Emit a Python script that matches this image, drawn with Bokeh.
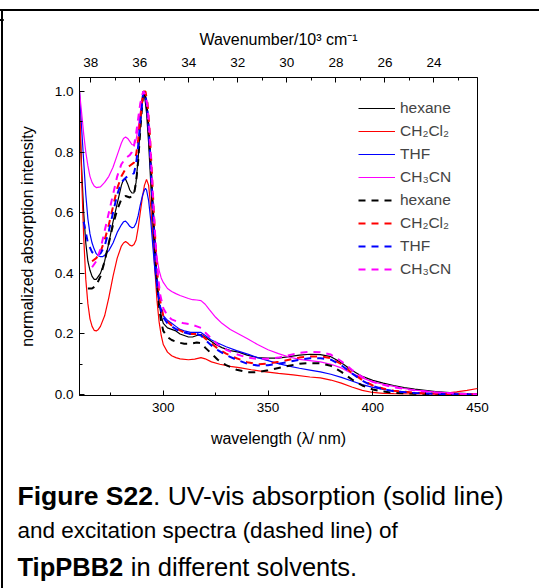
from bokeh.plotting import figure
from bokeh.models import Range1d, LinearAxis, FixedTicker, Legend, LegendItem, NumeralTickFormatter, Div, Spacer
from bokeh.layouts import column, row
from bokeh.embed import file_html
from bokeh.resources import INLINE
from bokeh.core.properties import value

FONT = "Liberation Sans"

# ---------------- data ----------------
wl_range = (260, 450)
y_ticks = [0.0, 0.2, 0.4, 0.6, 0.8, 1.0]
y_minor = [0.1, 0.3, 0.5, 0.7, 0.9]
x_ticks = [300, 350, 400, 450]
x_minor = [275, 325, 375, 425]
wn_ticks = [38, 36, 34, 32, 30, 28, 26, 24]
wn_minor = [37, 35, 33, 31, 29, 27, 25, 23]

solvents = ["hexane", "CH\u2082Cl\u2082", "THF", "CH\u2083CN"]
colors = ["#000000", "#ff0000", "#0000ff", "#ff00ff"]

# absorption (solid)
abs_hexane_wl = [260, 261, 262, 263, 264, 265, 266, 267, 268, 270, 272, 274, 276, 278, 280, 281, 282, 283, 284, 285, 286, 287, 288, 289, 290, 290.5, 291, 292, 293, 294, 295, 296, 297, 298, 299, 300, 302, 304, 306, 308, 310, 312, 314, 316, 318, 320, 322, 325, 328, 332, 336, 340, 345, 350, 355, 360, 365, 370, 375, 380, 383, 386, 390, 395, 400, 405, 410, 415, 420, 430, 440, 450]
abs_hexane = [0.92, 0.75, 0.6, 0.5, 0.44, 0.41, 0.39, 0.38, 0.38, 0.40, 0.44, 0.5, 0.57, 0.63, 0.69, 0.71, 0.71, 0.695, 0.675, 0.665, 0.665, 0.70, 0.78, 0.88, 0.97, 1.0, 0.99, 0.93, 0.83, 0.7, 0.57, 0.45, 0.36, 0.3, 0.26, 0.235, 0.22, 0.215, 0.21, 0.2, 0.195, 0.19, 0.19, 0.195, 0.198, 0.19, 0.18, 0.165, 0.155, 0.145, 0.14, 0.13, 0.122, 0.12, 0.12, 0.125, 0.13, 0.133, 0.132, 0.125, 0.113, 0.1, 0.08, 0.06, 0.047, 0.038, 0.03, 0.023, 0.018, 0.01, 0.005, 0.002]

abs_dcm_wl = [260, 261, 262, 263, 264, 265, 266, 267, 268, 269, 270, 272, 274, 276, 278, 280, 281, 282, 283, 284, 285, 286, 287, 288, 289, 290, 291, 292, 293, 294, 295, 296, 297, 298, 299, 300, 302, 304, 306, 308, 312, 315, 318, 320, 323, 327, 332, 337, 342, 348, 355, 362, 370, 375, 380, 385, 390, 395, 400, 405, 410, 420, 430, 435, 440, 445, 450]
abs_dcm = [1.0, 0.72, 0.52, 0.38, 0.3, 0.25, 0.225, 0.212, 0.21, 0.215, 0.225, 0.26, 0.32, 0.39, 0.45, 0.49, 0.5, 0.505, 0.5, 0.493, 0.49, 0.495, 0.51, 0.55, 0.6, 0.65, 0.69, 0.71, 0.69, 0.62, 0.52, 0.41, 0.31, 0.24, 0.195, 0.165, 0.14, 0.128, 0.122, 0.118, 0.115, 0.117, 0.122, 0.118, 0.108, 0.1, 0.093, 0.088, 0.082, 0.076, 0.07, 0.065, 0.058, 0.055, 0.048, 0.038, 0.025, 0.014, 0.007, 0.004, 0.003, 0.002, 0.003, 0.005, 0.009, 0.014, 0.02]

abs_thf_wl = [260, 261, 262, 263, 264, 265, 266, 267, 268, 269, 270, 271, 272, 274, 276, 278, 280, 281, 282, 283, 284, 285, 286, 287, 288, 289, 290, 291, 291.5, 292, 293, 294, 295, 296, 297, 298, 299, 300, 302, 304, 306, 308, 310, 313, 316, 318, 320, 323, 326, 330, 335, 341, 345, 350, 355, 360, 365, 370, 375, 380, 385, 390, 395, 400, 405, 410, 420, 430, 440, 450]
abs_thf = [1.0, 0.88, 0.77, 0.66, 0.58, 0.53, 0.5, 0.48, 0.465, 0.458, 0.455, 0.455, 0.46, 0.475, 0.5, 0.535, 0.56, 0.57, 0.572, 0.565, 0.555, 0.55, 0.552, 0.565, 0.59, 0.625, 0.655, 0.675, 0.68, 0.675, 0.64, 0.575, 0.49, 0.41, 0.35, 0.305, 0.275, 0.26, 0.245, 0.235, 0.225, 0.215, 0.21, 0.205, 0.205, 0.205, 0.195, 0.18, 0.17, 0.158, 0.145, 0.132, 0.122, 0.112, 0.102, 0.094, 0.087, 0.081, 0.075, 0.067, 0.057, 0.045, 0.033, 0.024, 0.017, 0.012, 0.006, 0.003, 0.001, 0.0]

abs_mecn_wl = [260, 261, 262, 263, 264, 265, 266, 267, 268, 270, 272, 274, 276, 278, 280, 281, 282, 283, 284, 285, 286, 287, 288, 289, 290, 290.5, 291, 292, 293, 294, 295, 296, 297, 298, 299, 300, 302, 304, 306, 308, 310, 312, 314, 316, 318, 320, 322, 325, 328, 332, 336, 340, 345, 350, 355, 360, 365, 370, 375, 380, 385, 390, 395, 400, 405, 410, 415, 420, 430, 440, 450]
abs_mecn = [1.0, 0.93, 0.86, 0.8, 0.755, 0.72, 0.7, 0.688, 0.683, 0.685, 0.7, 0.72, 0.75, 0.79, 0.83, 0.845, 0.85, 0.845, 0.835, 0.825, 0.823, 0.84, 0.88, 0.93, 0.98, 1.0, 0.995, 0.96, 0.87, 0.75, 0.62, 0.52, 0.45, 0.41, 0.385, 0.37, 0.35, 0.34, 0.333, 0.327, 0.322, 0.317, 0.313, 0.312, 0.31, 0.298, 0.28, 0.255, 0.235, 0.215, 0.2, 0.185, 0.165, 0.148, 0.135, 0.124, 0.116, 0.112, 0.108, 0.1, 0.088, 0.07, 0.055, 0.042, 0.034, 0.027, 0.02, 0.015, 0.008, 0.004, 0.002]

# excitation (dashed)
exc_hexane_wl = [264, 266, 268, 270, 272, 274, 276, 278, 280, 282, 284, 286, 287, 288, 289, 290, 290.5, 291, 292, 293, 294, 295, 296, 297, 298, 299, 300, 302, 304, 307, 310, 313, 316, 318, 320, 323, 326, 330, 335, 340, 345, 350, 355, 360, 365, 370, 375, 380, 385, 390, 395, 400, 405, 410, 420, 430, 440, 450]
exc_hexane = [0.35, 0.35, 0.36, 0.39, 0.44, 0.5, 0.56, 0.61, 0.645, 0.655, 0.65, 0.66, 0.7, 0.77, 0.87, 0.96, 1.0, 1.0, 0.96, 0.88, 0.76, 0.62, 0.48, 0.37, 0.29, 0.24, 0.21, 0.19, 0.18, 0.172, 0.168, 0.168, 0.172, 0.17, 0.155, 0.135, 0.115, 0.097, 0.082, 0.074, 0.074, 0.08, 0.088, 0.095, 0.102, 0.104, 0.103, 0.095, 0.075, 0.05, 0.03, 0.017, 0.01, 0.006, 0.003, 0.002, 0.001, 0.0]

exc_dcm_wl = [266, 268, 270, 272, 274, 276, 278, 280, 282, 284, 286, 287, 288, 289, 290, 290.5, 291.5, 292.5, 293.5, 294.5, 295.5, 296.5, 297.5, 298.5, 300, 302, 304, 307, 310, 313, 316, 318, 320, 323, 326, 330, 335, 340, 345, 350, 355, 360, 365, 370, 375, 380, 385, 390, 395, 400, 405, 410, 420, 430, 440, 450]
exc_dcm = [0.44, 0.45, 0.47, 0.51, 0.56, 0.62, 0.68, 0.72, 0.745, 0.755, 0.765, 0.79, 0.84, 0.91, 0.97, 1.0, 1.0, 0.96, 0.87, 0.74, 0.6, 0.47, 0.37, 0.31, 0.26, 0.24, 0.228, 0.215, 0.205, 0.2, 0.2, 0.198, 0.185, 0.168, 0.152, 0.135, 0.12, 0.107, 0.1, 0.102, 0.108, 0.115, 0.122, 0.126, 0.126, 0.12, 0.1, 0.072, 0.048, 0.03, 0.02, 0.013, 0.006, 0.003, 0.001, 0.0]

exc_thf_wl = [262, 264, 266, 268, 270, 272, 274, 276, 278, 280, 282, 284, 286, 287, 288, 289, 290, 290.5, 291.5, 292.5, 293.5, 294.5, 295.5, 296.5, 297.5, 298.5, 300, 302, 304, 307, 310, 313, 316, 318, 320, 323, 326, 330, 335, 340, 345, 350, 355, 360, 365, 370, 375, 380, 385, 390, 395, 400, 405, 410, 420, 430, 440, 450]
exc_thf = [0.57, 0.5, 0.47, 0.46, 0.465, 0.49, 0.54, 0.6, 0.66, 0.7, 0.715, 0.725, 0.73, 0.76, 0.82, 0.9, 0.97, 1.0, 0.99, 0.93, 0.82, 0.68, 0.54, 0.42, 0.34, 0.29, 0.255, 0.235, 0.225, 0.212, 0.205, 0.2, 0.2, 0.195, 0.18, 0.162, 0.147, 0.13, 0.115, 0.102, 0.096, 0.097, 0.102, 0.108, 0.115, 0.12, 0.12, 0.115, 0.097, 0.07, 0.046, 0.028, 0.018, 0.011, 0.005, 0.002, 0.001, 0.0]

exc_mecn_wl = [266, 268, 270, 272, 274, 276, 278, 280, 282, 284, 285, 286, 287, 288, 289, 290, 290.5, 291.5, 292.5, 293.5, 294.5, 295.5, 296.5, 297.5, 298.5, 300, 302, 304, 307, 310, 313, 316, 318, 320, 323, 326, 330, 335, 340, 345, 350, 355, 360, 365, 370, 375, 380, 385, 390, 395, 400, 405, 410, 420, 430, 440, 450]
exc_mecn = [0.42, 0.44, 0.48, 0.54, 0.6, 0.66, 0.72, 0.76, 0.78, 0.79, 0.8, 0.82, 0.86, 0.91, 0.96, 0.99, 1.0, 0.99, 0.95, 0.86, 0.73, 0.6, 0.48, 0.39, 0.33, 0.285, 0.26, 0.248, 0.24, 0.235, 0.232, 0.225, 0.22, 0.205, 0.185, 0.165, 0.148, 0.133, 0.122, 0.118, 0.118, 0.122, 0.13, 0.138, 0.141, 0.14, 0.132, 0.11, 0.082, 0.058, 0.042, 0.032, 0.024, 0.014, 0.007, 0.003, 0.001]

absorption = [(abs_hexane_wl, abs_hexane), (abs_dcm_wl, abs_dcm), (abs_thf_wl, abs_thf), (abs_mecn_wl, abs_mecn)]
excitation = [(exc_hexane_wl, exc_hexane), (exc_dcm_wl, exc_dcm), (exc_thf_wl, exc_thf), (exc_mecn_wl, exc_mecn)]

caption_lines = [
    ("Figure S22", ". UV-vis absorption (solid line)"),
    ("", "and excitation spectra (dashed line) of"),
    ("TipPBB2", "in different solvents."),
]

# ---------------- chart ----------------
p = figure(width=536, height=439, title=None,
           x_range=Range1d(*wl_range), y_range=Range1d(-0.003, 1.046),
           output_backend="svg", toolbar_location=None,
           min_border_left=76, min_border_right=62, min_border_top=66, min_border_bottom=55)
p.frame_align = False
p.xgrid.visible = False
p.ygrid.visible = False
p.outline_line_color = "black"
p.outline_line_width = 1
p.background_fill_color = "white"
p.border_fill_color = "white"

bottom = p.below[0]
left = p.left[0]

p.extra_x_ranges = {"wn": Range1d(1e4 / wl_range[0], 1e4 / wl_range[1])}
top = LinearAxis(x_range_name="wn", axis_label="Wavenumber/10\u00b3 cm\u207b\u00b9",
                 ticker=FixedTicker(ticks=wn_ticks, minor_ticks=wn_minor))
p.add_layout(top, "above")

bottom.ticker = FixedTicker(ticks=x_ticks, minor_ticks=x_minor)
bottom.axis_label = "wavelength (\u03bb/ nm)"
left.ticker = FixedTicker(ticks=y_ticks, minor_ticks=y_minor)
left.formatter = NumeralTickFormatter(format="0.0")
left.axis_label = "normalized absorption intensity"

for ax in (bottom, left, top):
    ax.major_tick_in = 5
    ax.major_tick_out = 0
    ax.minor_tick_in = 3
    ax.minor_tick_out = 0
    ax.axis_line_color = "black"
    ax.major_tick_line_color = "black"
    ax.minor_tick_line_color = "black"
    ax.major_label_text_font = FONT
    ax.major_label_text_font_size = "13.5px"
    ax.major_label_text_color = "black"
    ax.axis_label_text_font = FONT
    ax.axis_label_text_font_size = "16px"
    ax.axis_label_text_font_style = "normal"
    ax.axis_label_text_color = "black"

bottom.major_label_standoff = 7
bottom.axis_label_standoff = 15
top.major_label_standoff = 11
top.axis_label_standoff = 7
left.major_label_standoff = 6
left.axis_label_standoff = 16

solid_r = []
for (xs, ys), c in zip(absorption, colors):
    solid_r.append(p.line(xs, ys, line_color=c, line_width=1.2))
dash_r = []
for (xs, ys), c in zip(excitation, colors):
    dash_r.append(p.line(xs, ys, line_color=c, line_width=2, line_dash="7 6"))

items = [LegendItem(label=s, renderers=[r]) for s, r in zip(solvents, solid_r)]
items += [LegendItem(label=s, renderers=[r]) for s, r in zip(solvents, dash_r)]
legend = Legend(items=items, location=(279, 117), orientation="vertical",
                border_line_alpha=0, background_fill_alpha=0, padding=0, margin=0,
                spacing=5, glyph_width=37, glyph_height=18, label_height=18,
                label_standoff=5, label_text_font=FONT, label_text_font_size="15.5px")
p.add_layout(legend, "center")

# ---------------- caption ----------------
cap = figure(width=536, height=138, title=None, x_range=Range1d(0, 536), y_range=Range1d(0, 138),
             output_backend="svg", toolbar_location=None, min_border=0,
             x_axis_type=None, y_axis_type=None)
cap.frame_align = False
cap.grid.visible = False
cap.outline_line_color = None
cap_sizes = [26.5, 22.5, 25.5]
bold_w = {"Figure S22": 5.113, "TipPBB2": 4.167 + 0.278, "": 0.0}
line_y = [93, 58, 22]
for (b, n), yy, sz in zip(caption_lines, line_y, cap_sizes):
    x0 = 14
    if b:
        cap.text(x=[x0], y=[yy], text=[b], text_font=value(FONT), text_font_style="bold",
                 text_font_size=f"{sz}px", text_baseline="middle", text_color="black")
    cap.text(x=[x0 + bold_w[b] * sz], y=[yy], text=[n], text_font=value(FONT),
             text_font_size=f"{sz}px", text_baseline="middle", text_color="black")

# ---------------- page rules (top and left black lines) ----------------
top_rule = Div(text='<div style="width:539px;height:2px;background:#000;"></div>',
               width=539, height=2, min_width=539, min_height=2, margin=0, sizing_mode="fixed",
               styles={"background-color": "#000", "width": "539px", "min-width": "539px",
                       "height": "2px", "flex": "none", "overflow": "visible"})
left_rule = Div(text='<div style="width:2px;height:577px;background:#000;"></div>',
                width=2, height=577, min_width=2, min_height=577, margin=0, sizing_mode="fixed",
                styles={"background-color": "#000", "width": "2px", "height": "577px",
                        "min-height": "577px", "flex": "none", "overflow": "visible"})

layout = column(Spacer(width=539, height=9, margin=0), top_rule,
                row(Spacer(width=1, height=577, margin=0), left_rule, column(p, cap)))

open("out.html", "w").write(file_html(layout, INLINE))
